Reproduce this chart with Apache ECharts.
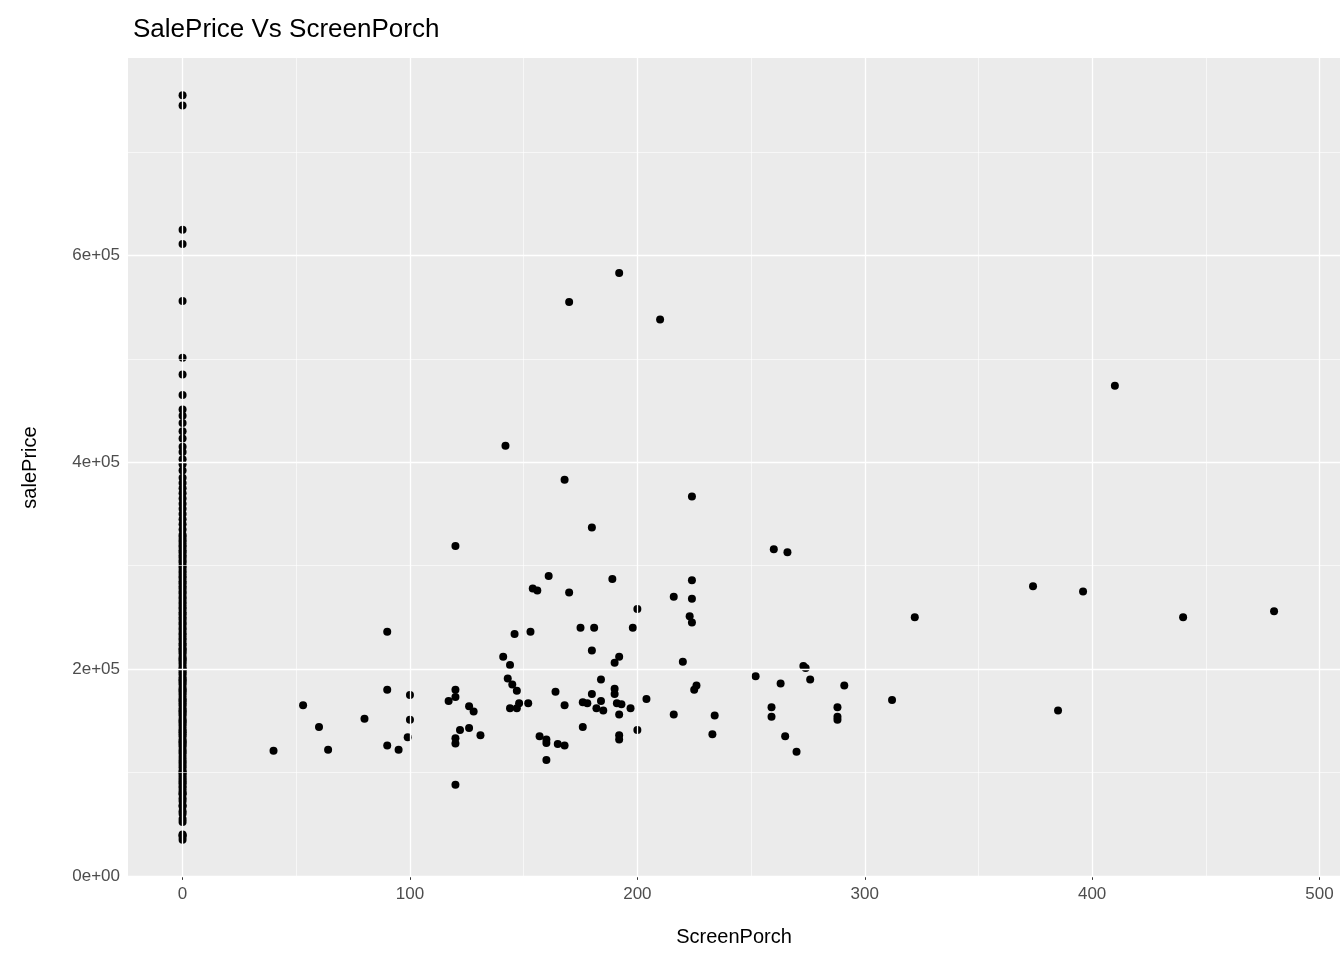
<!DOCTYPE html>
<html>
<head>
<meta charset="UTF-8">
<script src="https://cdn.jsdelivr.net/npm/echarts@6/dist/echarts.min.js"></script>
<style>
html,body{margin:0;padding:0;background:#fff}
#chart{width:1344px;height:960px}
</style>
</head>
<body>
<div id="chart"></div>
<script>
// houses with no screen porch (x = 0)
var zeroPrices = [34900,37900,39300,40000,52000,55000,60000,62383,67000,68400,72500,75000,79000,80000,82000,85000,87000,89500,91000,93000,95000,97000,99500,100000,102000,105000,107500,110000,112000,115000,118000,120000,122000,125000,127000,129000,130000,132000,135000,137000,139000,140000,142000,145000,147000,149000,150000,152000,155000,157000,159000,160000,162000,165000,167000,169000,170000,172000,175000,177000,179000,180000,182000,185000,187000,189000,190000,192000,195000,197000,199000,200000,202000,205000,207000,209000,210000,212000,215000,217000,219000,220000,223000,225000,228000,230000,233000,235000,238000,240000,243000,245000,248000,250000,253000,255000,258000,260000,263000,265000,268000,270000,273000,275000,278000,280000,283000,285000,288000,290000,293000,295000,298000,300000,303000,305000,308000,310000,313000,315000,318000,320000,323000,325000,328000,330000,335000,340000,345000,350000,355000,360000,365000,370000,375000,380000,385000,392000,398000,403000,410000,415000,423000,430000,438000,445000,451000,465000,485000,501000,556000,611000,625000,745000,755000];
// houses with a screen porch
var porchArea = [40,53,60,64,80,90,90,90,95,99,100,100,117,120,120,120,120,120,120,122,126,126,128,131,141,142,143,144,144,145,146,147,147,148,152,153,154,156,157,160,160,160,161,164,165,168,168,168,170,170,175,176,176,178,180,180,180,181,182,184,184,185,189,190,190,190,191,192,192,192,192,192,193,197,198,200,200,204,210,216,216,220,223,224,224,224,224,225,226,233,234,252,259,259,260,263,265,266,270,273,274,276,288,288,288,291,312,322,374,385,396,410,440,480];
var porchPrice = [121000,165000,144000,122000,152000,236000,180000,126000,122000,134000,175000,151000,169000,180000,173000,319000,133000,128000,88000,141000,143000,164000,159000,136000,212000,416000,191000,162000,204000,185000,234000,162000,179000,167000,167000,236000,278000,276000,135000,132000,112000,128500,290000,178000,127500,383000,126000,165000,555000,274000,240000,144000,168000,167000,218000,176000,337000,240000,162000,190000,169000,160000,287000,181000,206000,176000,167000,136000,132000,156000,583000,212000,166000,162000,240000,258000,141000,171000,538000,270000,156000,207000,251000,367000,286000,268000,245000,180000,184000,137000,155000,193000,163000,154000,316000,186000,135000,313000,120000,203000,201000,190000,163000,154000,151000,184000,170000,250000,280000,160000,275000,474000,250000,256000];
var xMajor = [0,100,200,300,400,500];
var xMinor = [50,150,250,350,450];
var yMajor = [0,200000,400000,600000];
var yMinor = [100000,300000,500000,700000];
var yLabels = ['0e+00','2e+05','4e+05','6e+05'];

var points = zeroPrices.map(function (p) { return [0, p]; });
porchArea.forEach(function (a, i) { points.push([a, porchPrice[i]]); });

function lines(vals, axis, w) {
  return vals.map(function (v) { var o = {}; o[axis] = v; o.lineStyle = {width: w}; return o; });
}

var myChart = echarts.init(document.getElementById('chart'));
myChart.setOption({
  animation: false,
  title: {text: 'SalePrice Vs ScreenPorch', left: 128, top: 12,
    textStyle: {fontFamily: 'Arial, Liberation Sans', fontWeight: 'normal', fontSize: 26, color: '#000'}},
  grid: {left: 128, right: 4, top: 58, bottom: 83, show: true, backgroundColor: '#EBEBEB', borderWidth: 0},
  xAxis: {
    type: 'value', min: -24, max: 509,
    name: 'ScreenPorch', nameLocation: 'middle', nameGap: 50,
    nameTextStyle: {fontFamily: 'Arial, Liberation Sans', fontSize: 20, color: '#000'},
    axisLine: {show: false},
    axisTick: {show: true, customValues: xMajor, length: 4, lineStyle: {color: '#333'}},
    axisLabel: {customValues: xMajor, fontFamily: 'Arial, Liberation Sans', fontSize: 17, color: '#4D4D4D', margin: 9},
    splitLine: {show: false}
  },
  yAxis: {
    type: 'value', min: -1100, max: 791000,
    name: 'salePrice', nameLocation: 'middle', nameGap: 88,
    nameTextStyle: {fontFamily: 'Arial, Liberation Sans', fontSize: 20, color: '#000'},
    axisLine: {show: false},
    axisTick: {show: true, customValues: yMajor, length: 4, lineStyle: {color: '#333'}},
    axisLabel: {customValues: yMajor, fontFamily: 'Arial, Liberation Sans', fontSize: 17, color: '#4D4D4D', margin: 8,
      formatter: function (v) { return yLabels[yMajor.indexOf(v)]; }},
    splitLine: {show: false}
  },
  series: [{
    type: 'scatter', data: [], silent: true, z: 1,
    markLine: {
      silent: true, symbol: 'none', label: {show: false},
      lineStyle: {color: '#fff', type: 'solid'},
      data: lines(xMinor, 'xAxis', 0.6).concat(lines(yMinor, 'yAxis', 0.6))
        .concat(lines(xMajor, 'xAxis', 1.3)).concat(lines(yMajor, 'yAxis', 1.3))
    }
  }, {
    type: 'scatter', data: points, z: 3,
    symbolSize: 8, itemStyle: {color: '#000', opacity: 1}
  }]
});
</script>
</body>
</html>
